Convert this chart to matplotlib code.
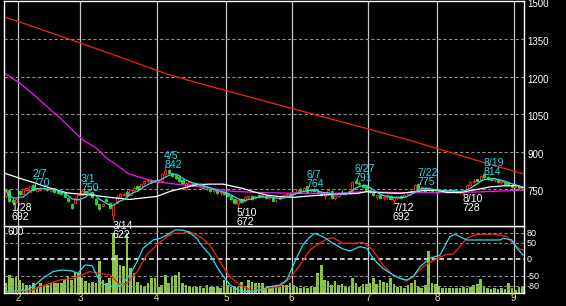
import numpy as np
import pandas as pd
import matplotlib
matplotlib.use("Agg")
import matplotlib.pyplot as plt
from matplotlib.transforms import offset_copy, blended_transform_factory

# trading calendar (Tokyo, 2022)
first_day = "2022-01-26"
last_day = "2022-09-05"
holidays = ["2022-02-11", "2022-02-23", "2022-03-21", "2022-04-29", "2022-05-03",
            "2022-05-04", "2022-05-05", "2022-07-18", "2022-08-11"]

opens = [722, 749, 708, 700, 745, 733, 748, 741, 766, 745, 748, 751, 753, 745, 755, 746, 738, 734, 716, 692,
         694, 710, 729, 742, 733, 738, 712, 690, 682, 712, 696, 648, 694, 720, 726, 740, 728, 748, 762, 756,
         774, 784, 788, 780, 778, 785, 812, 828, 816, 806, 798, 786, 752, 772, 772, 764, 772, 762, 752, 752,
         744, 742, 734, 738, 732, 724, 710, 692, 712, 705, 718, 722, 715, 726, 720, 720, 714, 716, 706, 712,
         722, 728, 732, 730, 738, 748, 742, 762, 742, 750, 744, 736, 724, 730, 744, 714, 724, 740, 736, 738,
         742, 782, 776, 768, 762, 746, 736, 720, 728, 714, 720, 722, 706, 716, 724, 720, 730, 738, 738, 770,
         752, 756, 746, 750, 742, 748, 744, 748, 744, 748, 742, 738, 736, 750, 768, 780, 790, 786, 810, 798,
         792, 786, 788, 778, 780, 774, 766, 758, 764, 754]
highs = [752, 752, 714, 716, 748, 754, 758, 765, 770, 756, 760, 758, 756, 754, 757, 749, 742, 737, 719, 696,
         718, 732, 750, 745, 748, 740, 714, 693, 694, 716, 699, 692, 728, 735, 738, 746, 752, 762, 766, 776,
         786, 792, 790, 792, 792, 815, 842, 832, 820, 812, 802, 792, 780, 782, 775, 772, 776, 766, 758, 756,
         750, 746, 742, 742, 736, 728, 712, 712, 716, 724, 728, 726, 728, 730, 732, 726, 722, 720, 712, 724,
         730, 734, 740, 742, 752, 756, 758, 764, 752, 754, 748, 742, 736, 752, 748, 728, 736, 748, 744, 748,
         782, 791, 782, 772, 766, 750, 740, 730, 732, 724, 730, 726, 720, 724, 726, 732, 742, 748, 772, 775,
         764, 758, 752, 756, 750, 752, 750, 752, 750, 752, 746, 742, 752, 770, 782, 790, 796, 806, 814, 802,
         796, 794, 792, 786, 784, 778, 770, 768, 768, 762]
lows = [718, 700, 692, 698, 728, 731, 744, 738, 744, 741, 744, 746, 743, 741, 735, 731, 728, 718, 699, 672,
        690, 706, 725, 726, 730, 714, 686, 669, 679, 698, 670, 622, 690, 716, 722, 722, 726, 744, 748, 752,
        768, 776, 776, 778, 775, 782, 808, 812, 800, 792, 780, 770, 748, 768, 762, 760, 760, 750, 746, 740,
        736, 730, 728, 728, 720, 706, 690, 672, 696, 700, 712, 708, 710, 714, 716, 712, 706, 702, 700, 708,
        716, 722, 726, 726, 734, 742, 738, 736, 738, 738, 734, 722, 710, 726, 712, 706, 720, 734, 728, 734,
        740, 772, 766, 756, 744, 734, 722, 712, 712, 708, 712, 708, 692, 710, 712, 716, 726, 734, 736, 750,
        748, 742, 740, 742, 738, 740, 738, 740, 738, 740, 734, 732, 728, 748, 764, 772, 778, 782, 796, 786,
        784, 780, 776, 770, 768, 762, 756, 752, 752, 748]
closes = [746, 705, 698, 712, 731, 751, 755, 762, 747, 752, 753, 755, 746, 751, 738, 734, 731, 721, 702, 676,
          715, 728, 745, 730, 744, 718, 690, 673, 690, 702, 676, 688, 720, 730, 732, 725, 748, 756, 752, 772,
          782, 786, 780, 788, 788, 812, 826, 815, 804, 796, 784, 774, 776, 778, 765, 770, 763, 754, 750, 744,
          746, 734, 738, 732, 724, 710, 694, 708, 700, 720, 724, 712, 725, 718, 728, 716, 718, 705, 709, 720,
          726, 730, 728, 738, 748, 744, 754, 740, 748, 742, 738, 726, 732, 746, 716, 724, 732, 738, 740, 744,
          778, 776, 770, 760, 748, 738, 726, 726, 716, 720, 726, 712, 716, 720, 716, 728, 738, 744, 768, 754,
          760, 745, 748, 744, 746, 744, 746, 742, 747, 743, 738, 740, 748, 766, 778, 785, 782, 802, 800, 790,
          788, 790, 780, 782, 772, 766, 760, 764, 756, 758]
volume = [90, 164, 134, 149, 119, 90, 75, 75, 90, 60, 90, 60, 75, 90, 90, 90, 90, 119, 149, 119,
          194, 179, 134, 110, 90, 104, 90, 284, 119, 90, 134, 537, 343, 254, 239, 537, 224, 179, 104, 75,
          60, 90, 134, 134, 60, 75, 164, 90, 149, 164, 194, 90, 75, 60, 60, 60, 60,
          51, 75, 60, 60, 60, 45, 119, 75, 60, 60, 60, 104, 60, 119, 99, 90, 90, 90, 45, 45,
          45, 75, 60, 75, 75, 90, 75, 60, 45, 60, 51, 60, 60, 179, 248, 119, 110, 75, 110, 75,
          81, 60, 60, 134, 90, 60, 81, 81, 90, 134, 81,
          119, 104, 90, 134, 81, 60, 60, 51, 75, 90, 119, 60, 45, 75, 373, 90, 81, 60, 51, 45,
          51, 45, 45, 51, 60, 45, 60, 75, 81, 128, 60, 45, 39, 45, 39, 51, 39, 90, 45, 30, 60, 60]

# longer moving averages (day index, price)
ma_white_day = [0, 4.1, 7.9, 11.3, 14.8, 17.7, 21.4, 25.2, 30.1, 35.8, 43.6, 47.4, 51.1, 55.2, 58.9,
                62.7, 65.6, 68.4, 71.3, 75.4, 79.1, 82.9, 86.9, 90.6, 96.4, 101.3, 104.2, 107.9,
                113.7, 120.4, 124.4, 127.3, 131.0, 133.9, 136.8, 139.7, 143.4, 147.5, 149.2]
ma_white = [813, 794, 778, 762, 747, 736, 731, 727, 718, 710, 722, 742, 755, 769, 771,
            771, 762, 754, 741, 727, 721, 718, 723, 727, 731, 734, 741, 737,
            734, 745, 747, 738, 737, 745, 752, 760, 764, 765, 758]
ma_magenta_day = [0, 4.1, 7.9, 11.9, 15.7, 19.4, 22.3, 26.3, 29.2, 32.1, 35.0, 38.7, 41.6, 45.4,
                  50.3, 55.2, 61.8, 65.6, 70.5, 75.4, 84.9, 94.4, 104.2, 113.7, 127.3, 136.8,
                  146.3, 149.2]
ma_magenta = [1210, 1173, 1130, 1080, 1034, 984, 947, 913, 873, 847, 815, 798, 787, 777,
              769, 762, 749, 742, 739, 737, 734, 734, 741, 737, 737, 740, 745, 746]
ma_red_day = [0, 7.9, 17.7, 27.2, 36.7, 46.5, 56.0, 84.9, 116.0, 136.8, 149.5]
ma_red = [1436, 1399, 1352, 1306, 1259, 1210, 1172, 1064, 948, 862, 811]

# oscillator panel (day index, value)
osc_cyan_day = [0, 6.1, 7.9, 10.7, 13.6, 16.2, 19.1, 20.8, 22.9, 24.9, 27.2, 29.2, 31.5, 33.5, 35.8,
                37.9, 39.6, 42.5, 44.5, 46.5, 48.8, 50.8, 52.6, 55.2, 56.0, 58.9, 61.8, 64.7, 67.6,
                70.5, 73.3, 76.2, 79.1, 81.1, 83.4, 85.7, 87.8, 89.2, 91.5, 94.4, 97.3, 99.3, 102.2,
                104.2, 105.9, 108.8, 111.7, 113.7, 115.7, 117.5, 119.5, 122.4, 125.3, 128.1, 129.6,
                131.0, 133.0, 136.8, 142.6, 143.4, 146.0, 147.5, 149.2]
osc_cyan = [-97, -92, -82, -57, -37, -32, -35, -42, -17, -19, -67, -80, -82, -75, -47,
            -7, 33, 58, 63, 73, 88, 88, 83, 63, 48, 13, -37, -77, -95,
            -97, -92, -82, -77, -62, -7, 43, 68, 78, 68, 48, 31, 25, 38,
            33, 3, -27, -47, -57, -62, -52, -22, 3, 13, 68, 75,
            68, 58, 58, 58, 63, 58, 33, 13]
osc_red_day = [0, 7.0, 9.9, 12.8, 15.7, 19.4, 22.3, 24.3, 27.2, 30.1, 33.0, 35.0, 37.9, 40.7, 43.6,
               46.5, 48.2, 51.1, 53.1, 56.0, 58.9, 61.8, 64.7, 67.6, 71.3, 75.4, 79.1, 82.0, 84.9,
               87.8, 89.8, 92.7, 94.4, 97.3, 100.2, 103.0, 105.9, 108.8, 111.7, 113.7, 115.7, 117.5,
               120.4, 124.4, 127.3, 129.0, 131.0, 133.0, 135.9, 141.7, 144.6, 146.3, 148.3, 149.2]
osc_red = [-97, -95, -82, -72, -62, -57, -45, -37, -42, -47, -77, -72, -37, 13, 43,
           68, 78, 78, 83, 68, 43, -7, -52, -77, -95, -87, -82, -57, -17,
           28, 43, 61, 65, 48, 48, 51, 28, -17, -47, -57, -65, -52,
           -22, 3, 15, 15, 38, 63, 75, 75, 68, 48, 31, 28]

high_dates = ["2/7", "3/1", "4/5", "6/7", "6/27", "7/22", "8/19"]
high_vals = [770, 750, 842, 764, 791, 775, 814]
low_dates = ["1/28", "3/14", "5/10", "7/12", "8/10"]
low_vals = [692, 622, 672, 692, 728]

price_ticks = [1500, 1350, 1200, 1050, 900, 750]
osc_ticks = [80, 50, 0, -50, -80]

RED = "#ff2010"
GREEN = "#30d030"
CYAN = "#20e0f0"
MAGENTA = "#ff10ff"
VOL = "#8cc63f"
GRID = "#8c8c8c"
VLINE = "#c8c8c8"
MONTH = "#f0e68c"
FONT = "Liberation Sans"

dates = pd.bdate_range(first_day, last_day, freq="C", holidays=holidays)
x = np.arange(len(dates))
o = np.array(opens); h = np.array(highs); l = np.array(lows); c = np.array(closes)

W, H = 566, 306
fig = plt.figure(figsize=(W / 100, H / 100), dpi=100, facecolor="black")

def box(x0, y0, x1, y1):
    return [x0 / W, 1 - y1 / H, (x1 - x0) / W, (y1 - y0) / H]

axv = fig.add_axes(box(4, 226, 524, 293.3))
axp = fig.add_axes(box(4, 1.3, 524, 226), sharex=axv)
axo = axv.twinx()
axp.set_zorder(5)   # labels of price panel may spill over the volume panel

for ax in (axp, axv):
    ax.set_facecolor("black")
    for s in ax.spines.values():
        s.set_color("white")
        s.set_linewidth(1)
for s in axo.spines.values():
    s.set_visible(False)
for ax in (axp, axv, axo):
    ax.set_xticks([])
    ax.set_yticks([])

axp.set_xlim(-0.5, len(x) - 0.5)
axp.set_ylim(604, 1500)
axv.set_ylim(0, 600)
axo.set_ylim(-102, 100)

# month separators
month_start = [i for i in range(1, len(dates)) if dates[i].month != dates[i - 1].month]
for i in month_start:
    axp.axvline(i - 0.5, color=VLINE, lw=0.9, zorder=1)
    axv.axvline(i - 0.5, color=VLINE, lw=0.9, zorder=1)
    axv.annotate(str(dates[i].month), xy=(i - 0.5, 0), xycoords=("data", "axes fraction"),
                 xytext=(0, -5), textcoords="offset pixels", ha="center", va="center",
                 color=MONTH, fontsize=7, family=FONT, annotation_clip=False)

# price grid and labels
for p in price_ticks[1:]:
    axp.axhline(p, color=GRID, lw=0.8, ls=(0, (3, 2)), zorder=1)
tr = blended_transform_factory(axp.transAxes, axp.transData)
for p in price_ticks:
    axp.text(1, p, str(p), transform=offset_copy(tr, fig, x=3.5, y=-6, units="dots"),
             ha="left", va="baseline", color="white", fontsize=7, family=FONT)

# candles
up = c >= o
edge = np.where(up, RED, GREEN)
face = np.where(up, "black", GREEN)
axp.vlines(x, l, h, colors=edge, lw=0.8, zorder=2)
axp.bar(x, np.maximum(np.abs(c - o), 2), bottom=np.minimum(o, c), width=0.62,
        color=face, edgecolor=edge, linewidth=0.7, zorder=3)

# moving averages
ma5 = pd.Series(closes).rolling(5, min_periods=1).mean()
axp.plot(ma_red_day, ma_red, color=RED, lw=0.9, zorder=4)
axp.plot(ma_magenta_day, ma_magenta, color=MAGENTA, lw=0.9, zorder=4)
axp.plot(ma_white_day, ma_white, color="white", lw=0.9, zorder=4)
axp.plot(x, ma5, color=CYAN, lw=0.9, zorder=5)

# peak / trough labels
day_of = {f"{d.month}/{d.day}": i for i, d in enumerate(dates)}
for d, v in zip(high_dates, high_vals):
    i = day_of[d]
    axp.text(i - 0.3, v, str(v), transform=offset_copy(axp.transData, fig, y=-1.5, units="dots"),
             ha="left", va="baseline", color=CYAN, fontsize=7.6, family=FONT, zorder=6)
    axp.text(i - 0.3, v, d, transform=offset_copy(axp.transData, fig, y=7.5, units="dots"),
             ha="left", va="baseline", color=CYAN, fontsize=7.6, family=FONT, zorder=6)
for d, v in zip(low_dates, low_vals):
    i = day_of[d]
    axp.text(i - 0.3, v, d, transform=offset_copy(axp.transData, fig, y=-7.5, units="dots"),
             ha="left", va="baseline", color="white", fontsize=7.6, family=FONT, zorder=6)
    axp.text(i - 0.3, v, str(v), transform=offset_copy(axp.transData, fig, y=-16.5, units="dots"),
             ha="left", va="baseline", color="white", fontsize=7.6, family=FONT, zorder=6)

# volume
axv.bar(x, volume, width=0.75, color=VOL, zorder=2)
fig.text(8 / W, 1 - 235 / H, "600", ha="left", va="baseline", color="white", fontsize=7, family=FONT)

# oscillator
for v in osc_ticks:
    if v == 0:
        axo.axhline(v, color="white", lw=1.1, ls=(0, (3, 2)), zorder=1)
    else:
        axo.axhline(v, color=GRID, lw=0.8, ls=(0, (3, 2)), zorder=1)
tro = blended_transform_factory(axo.transAxes, axo.transData)
for v in osc_ticks:
    axo.text(1, v, str(v), transform=offset_copy(tro, fig, x=3, y=-3, units="dots"),
             ha="left", va="baseline", color="white", fontsize=6.5, family=FONT)
axo.plot(osc_red_day, osc_red, color=RED, lw=0.9, zorder=3)
axo.plot(osc_cyan_day, osc_cyan, color=CYAN, lw=0.9, zorder=4)

fig.savefig("out.png", dpi=100, facecolor="black")
